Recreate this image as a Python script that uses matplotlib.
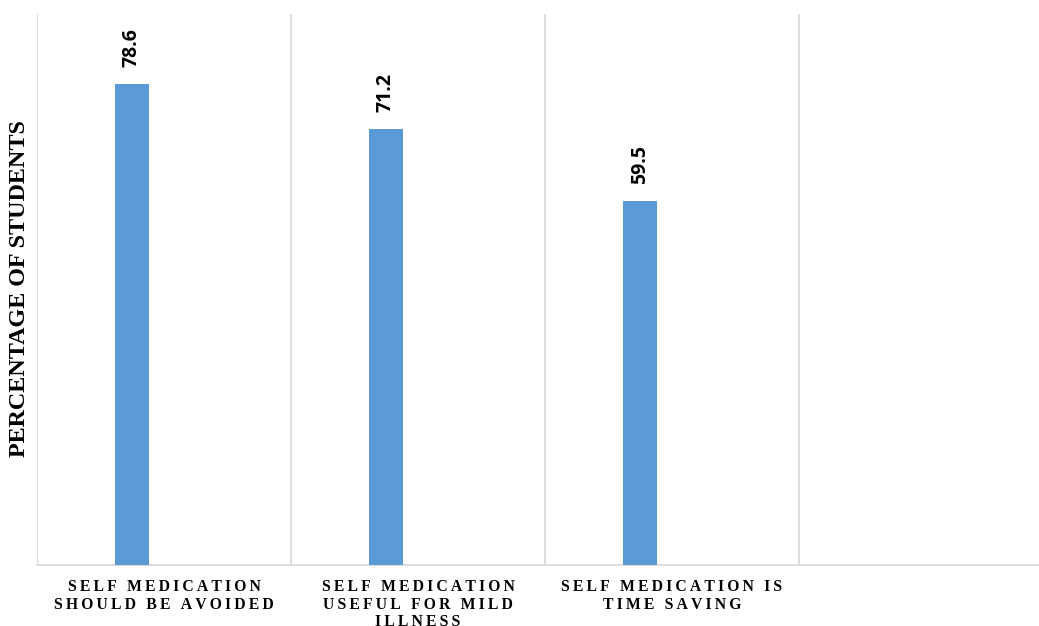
import matplotlib
matplotlib.use("Agg")
import matplotlib.pyplot as plt

categories = ["SELF MEDICATION\nSHOULD BE AVOIDED",
              "SELF MEDICATION\nUSEFUL FOR MILD\nILLNESS",
              "SELF MEDICATION IS\nTIME SAVING",
              ""]
values = [78.6, 71.2, 59.5]

BAR_COLOR = "#5B9BD5"
GRID_COLOR = "#D9D9D9"
THIN = "\u2009"


def spaced(text):
    # fake letter spacing with thin spaces
    lines = []
    for line in text.split("\n"):
        words = [THIN.join(w) for w in line.split(" ")]
        lines.append((THIN + " " + THIN).join(words))
    return "\n".join(lines)


fig = plt.figure(figsize=(10.39, 6.26), dpi=100)
ax = fig.add_axes([37 / 1039, 1 - 565 / 626, 1016 / 1039, 551 / 626])

x = [i + 0.374 for i in range(len(values))]
bars = ax.bar(x, values, width=0.134, color=BAR_COLOR, zorder=3)

for b, v in zip(bars, values):
    ax.annotate(f"{v}", (b.get_x() + b.get_width() / 2, v),
                xytext=(0, 17), textcoords="offset pixels",
                rotation=90, ha="center", va="bottom",
                fontsize=14, fontweight="bold", family="Open Sans")

ax.set_xlim(0, len(categories))
ax.set_ylim(0, 90)
for i in range(len(categories) + 1):
    ax.axvline(i, color=GRID_COLOR, lw=1.3, zorder=1)

ax.set_xticks([i + 0.5 for i in range(len(categories))])
ax.set_xticklabels([spaced(c) for c in categories], fontsize=11.3,
                   fontweight="bold", family=["Liberation Serif", "DejaVu Serif"],
                   linespacing=1.15)
ax.tick_params(axis="x", length=0, pad=10)
ax.set_yticks([])

for s in ["top", "right", "left"]:
    ax.spines[s].set_visible(False)
ax.spines["bottom"].set_color(GRID_COLOR)
ax.spines["bottom"].set_linewidth(1.3)

fig.text(20 / 1039, 1 - 289 / 626, "PERCENTAGE OF STUDENTS", rotation=90,
         ha="center", va="center", fontsize=17.4, fontweight="bold",
         family="Liberation Serif")

fig.savefig("out.png", dpi=100)
